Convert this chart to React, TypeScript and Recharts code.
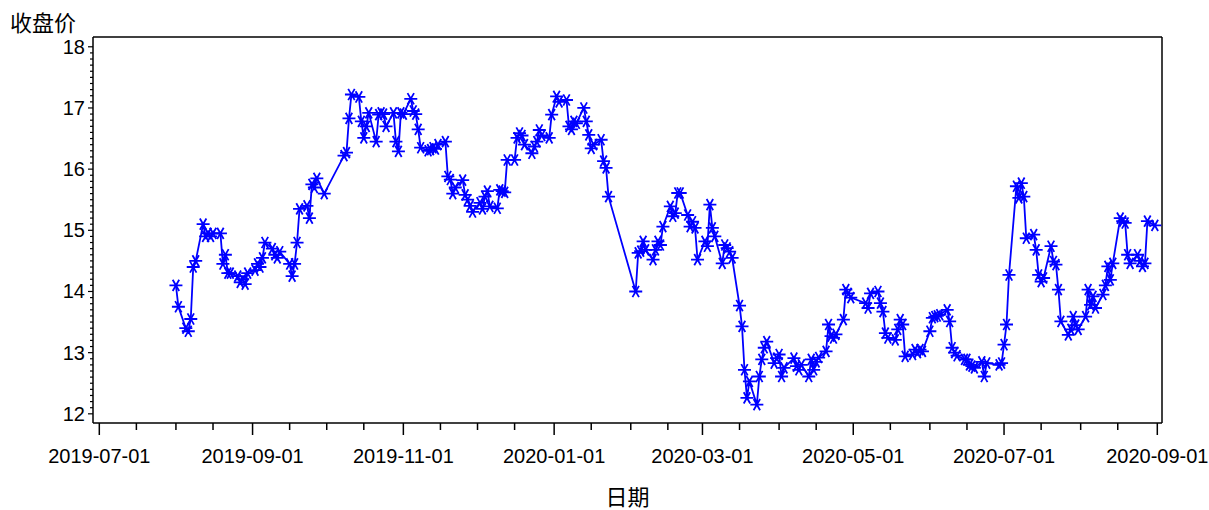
import React from "react";
import { LineChart, Line, XAxis, YAxis, ReferenceLine, Label } from "recharts";

// trading days (2019-08 .. 2020-08)
const dates = [
  "2019-08-01", "2019-08-02", "2019-08-05", "2019-08-06", "2019-08-07", "2019-08-08", "2019-08-09", "2019-08-12", "2019-08-13", "2019-08-14", "2019-08-15", "2019-08-16", "2019-08-19", "2019-08-20", "2019-08-21", "2019-08-22", "2019-08-23", "2019-08-26", "2019-08-27", "2019-08-28", "2019-08-29", "2019-08-30",
  "2019-09-02", "2019-09-03", "2019-09-04", "2019-09-05", "2019-09-06", "2019-09-09", "2019-09-10", "2019-09-11", "2019-09-12", "2019-09-16", "2019-09-17", "2019-09-18", "2019-09-19", "2019-09-20", "2019-09-23", "2019-09-24", "2019-09-25", "2019-09-26", "2019-09-27", "2019-09-30",
  "2019-10-08", "2019-10-09", "2019-10-10", "2019-10-11", "2019-10-14", "2019-10-15", "2019-10-16", "2019-10-17", "2019-10-18", "2019-10-21", "2019-10-22", "2019-10-23", "2019-10-24", "2019-10-25", "2019-10-28", "2019-10-29", "2019-10-30", "2019-10-31",
  "2019-11-01", "2019-11-04", "2019-11-05", "2019-11-06", "2019-11-07", "2019-11-08", "2019-11-11", "2019-11-12", "2019-11-13", "2019-11-14", "2019-11-15", "2019-11-18", "2019-11-19", "2019-11-20", "2019-11-21", "2019-11-22", "2019-11-25", "2019-11-26", "2019-11-27", "2019-11-28", "2019-11-29",
  "2019-12-02", "2019-12-03", "2019-12-04", "2019-12-05", "2019-12-06", "2019-12-09", "2019-12-10", "2019-12-11", "2019-12-12", "2019-12-13", "2019-12-16", "2019-12-17", "2019-12-18", "2019-12-19", "2019-12-20", "2019-12-23", "2019-12-24", "2019-12-25", "2019-12-26", "2019-12-27", "2019-12-30", "2019-12-31",
  "2020-01-02", "2020-01-03", "2020-01-06", "2020-01-07", "2020-01-08", "2020-01-09", "2020-01-10", "2020-01-13", "2020-01-14", "2020-01-15", "2020-01-16", "2020-01-17", "2020-01-20", "2020-01-21", "2020-01-22", "2020-01-23",
  "2020-02-03", "2020-02-04", "2020-02-05", "2020-02-06", "2020-02-07", "2020-02-10", "2020-02-11", "2020-02-12", "2020-02-13", "2020-02-14", "2020-02-17", "2020-02-18", "2020-02-19", "2020-02-20", "2020-02-21", "2020-02-24", "2020-02-25", "2020-02-26", "2020-02-27", "2020-02-28",
  "2020-03-02", "2020-03-03", "2020-03-04", "2020-03-05", "2020-03-06", "2020-03-09", "2020-03-10", "2020-03-11", "2020-03-12", "2020-03-13", "2020-03-16", "2020-03-17", "2020-03-18", "2020-03-19", "2020-03-20", "2020-03-23", "2020-03-24", "2020-03-25", "2020-03-26", "2020-03-27", "2020-03-30", "2020-03-31",
  "2020-04-01", "2020-04-02", "2020-04-03", "2020-04-07", "2020-04-08", "2020-04-09", "2020-04-10", "2020-04-13", "2020-04-14", "2020-04-15", "2020-04-16", "2020-04-17", "2020-04-20", "2020-04-21", "2020-04-22", "2020-04-23", "2020-04-24", "2020-04-27", "2020-04-28", "2020-04-29", "2020-04-30",
  "2020-05-06", "2020-05-07", "2020-05-08", "2020-05-11", "2020-05-12", "2020-05-13", "2020-05-14", "2020-05-15", "2020-05-18", "2020-05-19", "2020-05-20", "2020-05-21", "2020-05-22", "2020-05-25", "2020-05-26", "2020-05-27", "2020-05-28", "2020-05-29",
  "2020-06-01", "2020-06-02", "2020-06-03", "2020-06-04", "2020-06-05", "2020-06-08", "2020-06-09", "2020-06-10", "2020-06-11", "2020-06-12", "2020-06-15", "2020-06-16", "2020-06-17", "2020-06-18", "2020-06-19", "2020-06-22", "2020-06-23", "2020-06-24", "2020-06-29", "2020-06-30",
  "2020-07-01", "2020-07-02", "2020-07-03", "2020-07-06", "2020-07-07", "2020-07-08", "2020-07-09", "2020-07-10", "2020-07-13", "2020-07-14", "2020-07-15", "2020-07-16", "2020-07-17", "2020-07-20", "2020-07-21", "2020-07-22", "2020-07-23", "2020-07-24", "2020-07-27", "2020-07-28", "2020-07-29", "2020-07-30", "2020-07-31",
  "2020-08-03", "2020-08-04", "2020-08-05", "2020-08-06", "2020-08-07", "2020-08-10", "2020-08-11", "2020-08-12", "2020-08-13", "2020-08-14", "2020-08-17", "2020-08-18", "2020-08-19", "2020-08-20", "2020-08-21", "2020-08-24", "2020-08-25", "2020-08-26", "2020-08-27", "2020-08-28", "2020-08-31",
];

// 收盘价, same order as dates
const closes = [
  14.1, 13.75, 13.4, 13.35, 13.55, 14.4, 14.5, 15.1, 14.9, 14.95, 14.9, 14.95, 14.95, 14.45, 14.6, 14.3, 14.3, 14.25, 14.15, 14.2, 14.12, 14.3,
  14.35, 14.45, 14.4, 14.55, 14.8, 14.7, 14.6, 14.55, 14.65, 14.45, 14.25, 14.45, 14.8, 15.35, 15.4, 15.2, 15.75, 15.7, 15.85, 15.6,
  16.22, 16.27, 16.83, 17.22, 17.18, 16.78, 16.51, 16.7, 16.92, 16.45, 16.89, 16.92, 16.9, 16.7, 16.92, 16.45, 16.29, 16.92,
  16.9, 17.15, 16.95, 16.9, 16.65, 16.35, 16.3, 16.32, 16.35, 16.33, 16.4, 16.45, 15.88, 15.83, 15.6, 15.7, 15.82, 15.58, 15.5, 15.4, 15.3,
  15.45, 15.35, 15.55, 15.64, 15.39, 15.36, 15.66, 15.64, 15.62, 16.15, 16.15, 16.51, 16.59, 16.55, 16.4, 16.26, 16.37, 16.45, 16.64, 16.55, 16.51, 16.89,
  17.19, 17.1, 17.13, 16.7, 16.65, 16.78, 16.75, 17.0, 16.78, 16.56, 16.34, 16.4, 16.48, 16.13, 16.02, 15.55,
  14.0, 14.63, 14.66, 14.82, 14.68, 14.52, 14.68, 14.82, 14.76, 15.06, 15.39, 15.23, 15.28, 15.61, 15.61, 15.25, 15.06, 15.14, 15.04, 14.52,
  14.82, 14.74, 15.42, 15.04, 14.9, 14.46, 14.76, 14.71, 14.65, 14.55, 13.77, 13.43, 12.72, 12.26, 12.53, 12.15, 12.61, 12.89, 13.08, 13.18, 12.83, 12.91,
  12.97, 12.61, 12.75, 12.91, 12.78, 12.72, 12.8, 12.61, 12.89, 12.72, 12.85, 12.92, 13.02, 13.46, 13.27, 13.24, 13.3, 13.54, 14.03, 13.97, 13.9,
  13.81, 13.73, 13.97, 14.0, 13.81, 13.67, 13.32, 13.24, 13.21, 13.38, 13.54, 13.46, 12.94, 12.97, 13.05, 13.0, 13.05, 13.02,
  13.35, 13.57, 13.59, 13.6, 13.62, 13.7, 13.51, 13.08, 13.0, 12.95, 12.89, 12.89, 12.8, 12.78, 12.75, 12.85, 12.61, 12.83, 12.8, 12.83,
  13.13, 13.46, 14.27, 15.72, 15.53, 15.77, 15.55, 14.87, 14.93, 14.68, 14.27, 14.16, 14.22, 14.74, 14.49, 14.44, 14.03, 13.51, 13.29, 13.38, 13.59, 13.45, 13.38,
  13.59, 14.03, 13.78, 13.92, 13.73, 13.95, 14.1, 14.41, 14.19, 14.46, 15.2, 15.15, 15.12, 14.6, 14.46, 14.6, 14.5, 14.41, 14.46, 15.15, 15.08,
];

const xTickDates = [
  "2019-07-01", "2019-07-16", "2019-08-01", "2019-08-16", "2019-09-01", "2019-09-16", "2019-10-01", "2019-10-16",
  "2019-11-01", "2019-11-16", "2019-12-01", "2019-12-16", "2020-01-01", "2020-01-16", "2020-02-01", "2020-02-16",
  "2020-03-01", "2020-03-16", "2020-04-01", "2020-04-16", "2020-05-01", "2020-05-16", "2020-06-01", "2020-06-16",
  "2020-07-01", "2020-07-16", "2020-08-01", "2020-08-16", "2020-09-01",
];
const xLabels = ["2019-07-01", "2019-09-01", "2019-11-01", "2020-01-01", "2020-03-01", "2020-05-01", "2020-07-01", "2020-09-01"];
const yLabels = [12, 13, 14, 15, 16, 17, 18];

const toDay = (s: string) => Date.UTC(+s.slice(0, 4), +s.slice(5, 7) - 1, +s.slice(8, 10)) / 86400000;
const dayToStr = new Map(xTickDates.map((d) => [toDay(d), d]));

const data = dates.map((d, i) => ({ day: toDay(d), close: closes[i] }));

const X_MIN = toDay("2019-07-01") - 2.55;
const X_MAX = toDay("2020-09-01") + 1.9;
const Y_MIN = 11.85;
const Y_MAX = 18.16;
const yTicks = Array.from({ length: 61 }, (_, i) => Math.round((12 + i * 0.1) * 10) / 10);

const FONT = "'Liberation Sans', 'Noto Sans CJK SC', sans-serif";
const CJK = "'Noto Sans CJK SC', sans-serif";
const BLUE = "#0000FF";

function XTick({ x, y, payload }: any) {
  const label = dayToStr.get(payload.value) || "";
  const major = xLabels.includes(label);
  return (
    <g>
      <line x1={x} x2={x} y1={y} y2={y + (major ? 12 : 7)} stroke="#000" strokeWidth={1.5} />
      {major && (
        <text x={x} y={y + 40} textAnchor="middle" fontSize={20} fontFamily={FONT} fill="#000">
          {label}
        </text>
      )}
    </g>
  );
}

function YTick({ x, y, payload }: any) {
  const major = yLabels.includes(payload.value);
  return (
    <g>
      <line x1={x} x2={x - (major ? 5 : 3)} y1={y} y2={y} stroke="#000" strokeWidth={1.2} />
      {major && (
        <text x={x - 8} y={y + 7} textAnchor="end" fontSize={20} fontFamily={FONT} fill="#000">
          {payload.value}
        </text>
      )}
    </g>
  );
}

function Star(props: any) {
  const { cx, cy, index } = props;
  if (cx == null || cy == null) return <g key={index} />;
  const r = 6.5;
  const dx = r * 0.5;
  const dy = r * 0.866;
  const d =
    `M${cx - r},${cy}L${cx + r},${cy}` +
    `M${cx - dx},${cy - dy}L${cx + dx},${cy + dy}` +
    `M${cx + dx},${cy - dy}L${cx - dx},${cy + dy}`;
  return <path key={index} d={d} stroke={BLUE} strokeWidth={1.8} fill="none" />;
}

export default function App() {
  return (
    <div style={{ position: "absolute", left: 0, top: 0, background: "#fff" }}>
      <LineChart width={1209} height={510} data={data} margin={{ top: 37, right: 47, bottom: 0, left: 0 }}>
        <XAxis
          dataKey="day"
          type="number"
          domain={[X_MIN, X_MAX]}
          ticks={xTickDates.map(toDay)}
          interval={0}
          height={87}
          tickSize={0}
          tickMargin={0}
          tick={<XTick />}
          axisLine={{ stroke: "#000", strokeWidth: 1.5 }}
          allowDataOverflow
        >
          <Label value="日期" position="insideBottom" offset={5} fontSize={22} fontFamily={CJK} fill="#000" />
        </XAxis>
        <YAxis
          type="number"
          domain={[Y_MIN, Y_MAX]}
          ticks={yTicks}
          interval={0}
          width={93}
          tickSize={0}
          tickMargin={0}
          tick={<YTick />}
          axisLine={{ stroke: "#000", strokeWidth: 1.5 }}
          allowDataOverflow
        >
          <Label
            content={(p: any) => (
              <text x={p.viewBox.x + 10} y={p.viewBox.y - 6} fontSize={22} fontFamily={CJK} fill="#000">
                收盘价
              </text>
            )}
          />
        </YAxis>
        <ReferenceLine y={Y_MAX} stroke="#000" strokeWidth={1.5} />
        <ReferenceLine x={X_MAX} stroke="#000" strokeWidth={1.5} />
        <Line
          dataKey="close"
          stroke={BLUE}
          strokeWidth={1.8}
          dot={Star}
          activeDot={false}
          isAnimationActive={false}
        />
      </LineChart>
    </div>
  );
}
